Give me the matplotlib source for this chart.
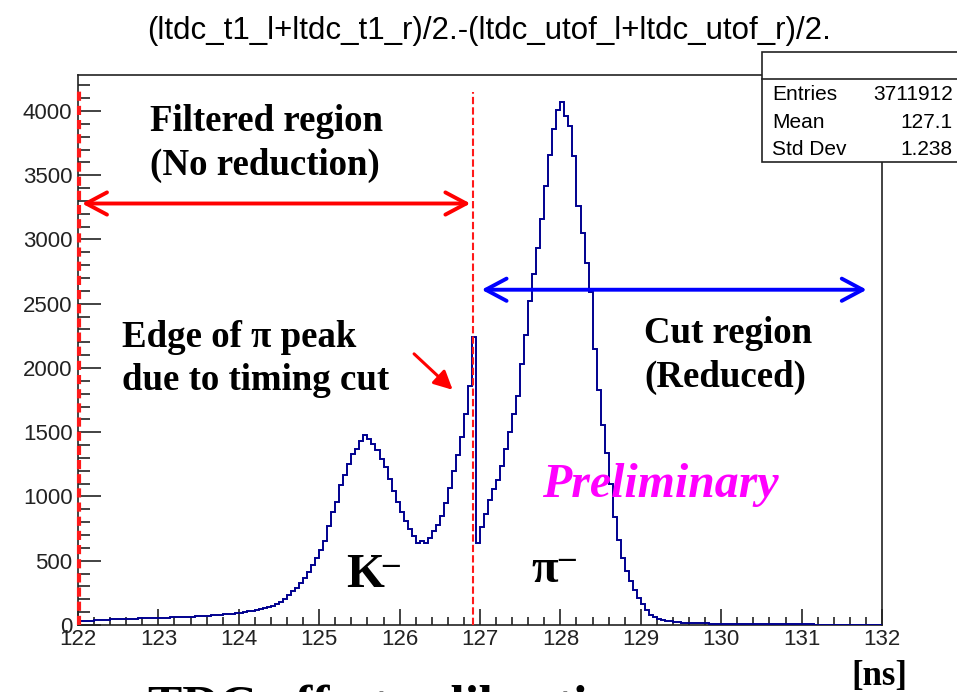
import numpy as np
import matplotlib
matplotlib.use("Agg")
import matplotlib.pyplot as plt
from matplotlib.ticker import MultipleLocator
from matplotlib.patches import Rectangle
from matplotlib.lines import Line2D

# ---------------- data ----------------
bin_lo = 122.0
bin_width = 0.05
counts = [
    28, 32, 31, 35, 38, 37, 41, 40, 44, 46,
    45, 48, 47, 50, 49, 52, 51, 54, 53, 56,
    55, 58, 57, 60, 62, 61, 64, 66, 65, 69,
    70, 72, 71, 75, 78, 77, 82, 85, 88, 93,
    96, 99, 106, 110, 118, 122, 132, 140, 151, 163,
    180, 200, 235, 262, 290, 325, 365, 410, 465, 525,
    585, 650, 770, 880, 960, 1090, 1170, 1250, 1330, 1370,
    1430, 1475, 1445, 1410, 1365, 1290, 1230, 1140, 1040, 960,
    880, 810, 750, 690, 640, 655, 640, 680, 730, 780,
    850, 950, 1070, 1200, 1320, 1460, 1640, 1860, 2240, 640,
    760, 860, 975, 1060, 1130, 1240, 1370, 1500, 1640, 1780,
    2030, 2260, 2520, 2730, 2930, 3160, 3420, 3660, 3860, 4010,
    4070, 3960, 3880, 3650, 3260, 3050, 2820, 2590, 2150, 1830,
    1560, 1340, 1100, 840, 660, 520, 420, 340, 270, 210,
    160, 115, 80, 60, 46, 38, 32, 28, 24, 21,
    19, 17, 16, 15, 14, 13, 12, 11, 10, 10,
    9, 9, 8, 8, 8, 7, 7, 7, 6, 6,
    6, 6, 5, 5, 5, 5, 4, 4, 4, 4,
    4, 4, 4, 3, 3, 3, 3, 3, 3, 3,
    3, 3, 3, 2, 2, 2, 2, 2, 2, 2,
]
xticks = [122, 123, 124, 125, 126, 127, 128, 129, 130, 131, 132]
yticks = [0, 500, 1000, 1500, 2000, 2500, 3000, 3500, 4000]
title = "(ltdc_t1_l+ltdc_t1_r)/2.-(ltdc_utof_l+ltdc_utof_r)/2."
stats_names = ["Entries", "Mean", "Std Dev"]
stats_vals = ["3711912", "127.1", "1.238"]
cut_position = 126.91

# ---------------- figure ----------------
W, H = 957, 692
fig = plt.figure(figsize=(W / 100, H / 100), dpi=100)
fig.patch.set_facecolor("white")

def fx(px):
    return px / W

def fy(py):
    return 1 - py / H

ax = fig.add_axes([fx(78), fy(625), (882 - 78) / W, (625 - 75) / H])

edges = bin_lo + bin_width * np.arange(len(counts) + 1)
ax.stairs(counts, edges, color="#00008f", lw=1.4, zorder=3)

ax.set_xlim(122, 132)
ax.set_ylim(0, 4280)
ax.set_xticks(xticks)
ax.set_yticks(yticks)
ax.xaxis.set_minor_locator(MultipleLocator(0.2))
ax.yaxis.set_minor_locator(MultipleLocator(100))
sans = "Liberation Sans"
ax.set_xticklabels([str(t) for t in xticks], family=sans, fontsize=16)
ax.set_yticklabels([str(t) for t in yticks], family=sans, fontsize=16)
ax.tick_params(axis="x", which="major", direction="in", length=11.5, width=1.2,
               top=False, pad=3, colors="#222222")
ax.tick_params(axis="x", which="minor", direction="in", length=6, width=1.2,
               top=False, colors="#222222")
ax.tick_params(axis="y", which="major", direction="in", length=16.5, width=1.2,
               right=False, pad=4, colors="#222222")
ax.tick_params(axis="y", which="minor", direction="in", length=8.5, width=1.2,
               right=False, colors="#222222")
for s in ax.spines.values():
    s.set_linewidth(1.2)
    s.set_color("#222222")

# red dashed lines
ax.plot([cut_position, cut_position], [0, 4150], color="#ff1a1a", lw=1.5,
        dashes=(3.5, 1.5), zorder=4)
ax.plot([122.015, 122.015], [0, 4180], color="#ff1a1a", lw=3.0,
        dashes=(2.2, 1.2), zorder=4, clip_on=False)

# arrows
ax.annotate("", xy=(126.88, 3280), xytext=(122.05, 3280),
            arrowprops=dict(arrowstyle="<->,head_length=0.75,head_width=0.4",
                            color="#ff0000", lw=2.8, mutation_scale=20,
                            shrinkA=0, shrinkB=0), zorder=5)
ax.annotate("", xy=(131.81, 2609), xytext=(127.02, 2609),
            arrowprops=dict(arrowstyle="<->,head_length=0.75,head_width=0.4",
                            color="#0000ff", lw=2.8, mutation_scale=20,
                            shrinkA=0, shrinkB=0), zorder=5)
ax.annotate("", xy=(126.66, 1830), xytext=(126.18, 2110),
            arrowprops=dict(arrowstyle="-|>,head_length=0.8,head_width=0.4",
                            color="#ff0000", lw=2.2, mutation_scale=14,
                            shrinkA=0, shrinkB=0), zorder=5)

# ---------------- texts ----------------
serif = "Liberation Serif"
bsize = 26.6
fig.text(fx(150), fy(131), "Filtered region", family=serif, weight="bold",
         fontsize=bsize, ha="left", va="baseline")
fig.text(fx(150), fy(175), "(No reduction)", family=serif, weight="bold",
         fontsize=bsize, ha="left", va="baseline")
fig.text(fx(122), fy(347), "Edge of \u03c0 peak", family=serif, weight="bold",
         fontsize=bsize, ha="left", va="baseline")
fig.text(fx(122), fy(390), "due to timing cut", family=serif, weight="bold",
         fontsize=bsize, ha="left", va="baseline")
fig.text(fx(644), fy(343), "Cut region", family=serif, weight="bold",
         fontsize=bsize, ha="left", va="baseline")
fig.text(fx(644), fy(387), "(Reduced)", family=serif, weight="bold",
         fontsize=bsize, ha="left", va="baseline")
fig.text(fx(542), fy(497), "Preliminary", family=serif, weight="bold",
         style="italic", fontsize=34.5, color="#ff00ff", ha="left", va="baseline")
fig.text(fx(346), fy(587), "K", family=serif, weight="bold",
         fontsize=35, ha="left", va="baseline")
fig.text(fx(382), fy(574), "\u2013", family=serif, weight="bold",
         fontsize=24, ha="left", va="baseline")
fig.text(fx(531), fy(582), "\u03c0", family=serif, weight="bold",
         fontsize=35, ha="left", va="baseline")
fig.text(fx(558), fy(568), "\u2013", family=serif, weight="bold",
         fontsize=24, ha="left", va="baseline")
fig.text(fx(851), fy(685), "[ns]", family=serif, weight="bold",
         fontsize=25, ha="left", va="baseline")
fig.text(fx(148), fy(720), "TDC offset calibration", family=serif, weight="bold",
         fontsize=37, ha="left", va="baseline")

# title
fig.text(fx(489), fy(39), title, family=sans, fontsize=22.5, ha="center",
         va="baseline")

# stats box
box = Rectangle((fx(762), fy(162)), (W + 5 - 762) / W, (162 - 52) / H,
                transform=fig.transFigure, facecolor="white",
                edgecolor="#222222", lw=1.2, zorder=10)
fig.add_artist(box)
fig.add_artist(Line2D([fx(762), 1.0], [fy(79), fy(79)], transform=fig.transFigure,
                      color="#222222", lw=1.2, zorder=11))
for i, (n, v) in enumerate(zip(stats_names, stats_vals)):
    yb = 100 + 27.5 * i
    t1 = fig.text(fx(772), fy(yb), n, family=sans, fontsize=15, ha="left",
                  va="baseline")
    t2 = fig.text(fx(953), fy(yb), v, family=sans, fontsize=15, ha="right",
                  va="baseline")
    t1.set_zorder(12)
    t2.set_zorder(12)

fig.savefig("out.png", dpi=100)
